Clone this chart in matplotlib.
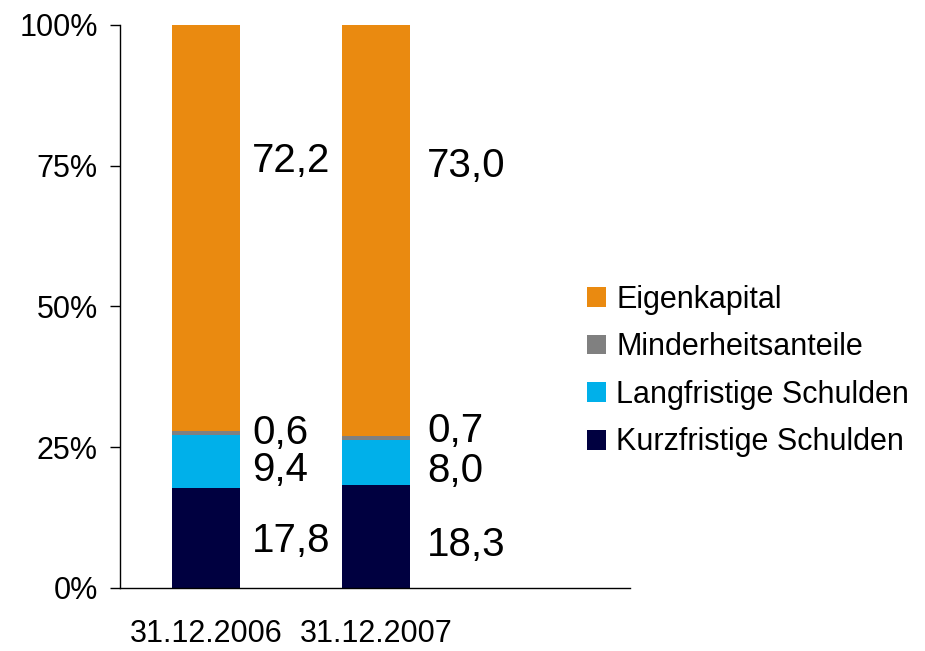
import matplotlib
matplotlib.use('Agg')
import matplotlib.pyplot as plt
import numpy as np

plt.rcParams['font.family'] = ['Liberation Sans', 'DejaVu Sans']

# data
dates = ['31.12.2006', '31.12.2007']
series = ['Kurzfristige Schulden', 'Langfristige Schulden', 'Minderheitsanteile', 'Eigenkapital']
kurz = [17.8, 18.3]
lang = [9.4, 8.0]
minder = [0.6, 0.7]
eigen = [72.2, 73.0]
colors = ['#000040', '#00B0EA', '#808080', '#EA8A10']

values = [kurz, lang, minder, eigen]
# vertical nudge of the value labels (percent points) relative to segment middle
label_shift = [[-0.5, -1.6], [-1.6, -1.6], [0.0, 1.2], [12.0, 11.5]]
# horizontal gap between bar edge and its labels (data units)
label_gap = [0.07, 0.1]

fig = plt.figure(figsize=(9.25, 6.51), dpi=100)
ax = fig.add_axes([0.1297, 0.0968, 0.681 - 0.1297, 0.9616 - 0.0968])

x = np.arange(len(dates))
width = 0.4
bottom = np.zeros(len(dates))
handles = []
for name, vals, col, shifts in zip(series, values, colors, label_shift):
    vals = np.array(vals)
    h = ax.bar(x, vals, width, bottom=bottom, color=col, label=name)
    handles.append(h)
    for i in range(len(dates)):
        ymid = bottom[i] + vals[i] / 2 + shifts[i]
        ax.text(x[i] + width / 2 + label_gap[i], ymid, f'{vals[i]:.1f}'.replace('.', ','),
                ha='left', va='center', fontsize=29)
    bottom += vals

ax.set_xlim(-0.506, 2.494)
ax.set_ylim(0, 100)
ax.set_yticks([0, 25, 50, 75, 100])
ax.set_yticklabels(['0%', '25%', '50%', '75%', '100%'], fontsize=22)
ax.set_xticks(x)
ax.set_xticklabels(dates, fontsize=22)
ax.tick_params(axis='x', length=0, pad=22)
ax.tick_params(axis='y', length=7, width=1, direction='out', pad=9)
for s in ['top', 'right']:
    ax.spines[s].set_visible(False)
ax.spines['left'].set_linewidth(1)
ax.spines['bottom'].set_linewidth(1)

fig.legend(handles[::-1], series[::-1], loc='center left',
           bbox_to_anchor=(0.605, 0.43), frameon=False, fontsize=22,
           handlelength=0.62, handleheight=0.62, handletextpad=0.33,
           labelspacing=0.575)

fig.savefig('out.png', dpi=100, facecolor='white')
